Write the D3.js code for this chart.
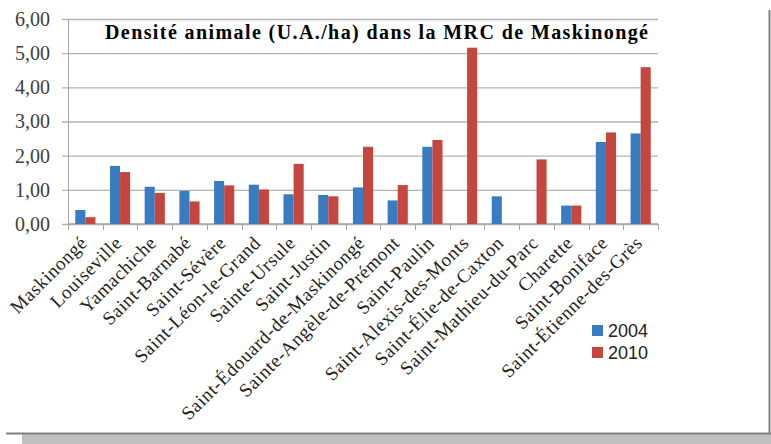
<!DOCTYPE html>
<html>
<head>
<meta charset="utf-8">
<script src="https://cdn.jsdelivr.net/npm/d3@7"></script>
<style>
  body { margin: 0; background: #fff; }
</style>
</head>
<body>
<div id="chart"></div>
<script>
// DATA

const categories = ["Maskinongé", "Louiseville", "Yamachiche", "Saint-Barnabé", "Saint-Sévère",
  "Saint-Léon-le-Grand", "Sainte-Ursule", "Saint-Justin", "Saint-Édouard-de-Maskinongé",
  "Sainte-Angèle-de-Prémont", "Saint-Paulin", "Saint-Alexis-des-Monts", "Saint-Élie-de-Caxton",
  "Saint-Mathieu-du-Parc", "Charette", "Saint-Boniface", "Saint-Étienne-des-Grès"];
const values2004 = [0.41, 1.70, 1.09, 0.97, 1.26, 1.15, 0.87, 0.85, 1.07, 0.69, 2.26, 0, 0.81, 0, 0.54, 2.40, 2.65];
const values2010 = [0.20, 1.52, 0.91, 0.66, 1.13, 1.01, 1.76, 0.81, 2.26, 1.14, 2.46, 5.16, 0, 1.89, 0.54, 2.68, 4.59];
const seriesNames = ["2004", "2010"];
const yTicks = [0, 1, 2, 3, 4, 5, 6];
const title = "Densité animale (U.A./ha) dans la MRC de Maskinongé";

// SETUP

const W = 771, H = 444;
const colors = ["#3a7cc1", "#c4463f"];
const serif = "Liberation Serif, DejaVu Serif, serif";

var svg = d3.select("#chart")
  .append("svg")
  .attr("width", W)
  .attr("height", H);

// frame and shadow
svg.append("rect")
  .attr("x", 22).attr("y", 434)
  .attr("width", W - 22).attr("height", 10)
  .attr("fill", "#c0c0c0");
svg.append("line")
  .attr("x1", 6).attr("y1", 433.5).attr("x2", W).attr("y2", 433.5)
  .attr("stroke", "#808080").attr("stroke-width", 2);
svg.append("line")
  .attr("x1", 769.5).attr("y1", 10).attr("x2", 769.5).attr("y2", 434)
  .attr("stroke", "#808080").attr("stroke-width", 2);

// SCALES

var x = d3.scaleBand()
  .domain(categories)
  .range([68, 658])
  .paddingInner(0)
  .paddingOuter(0);

var sub = d3.scaleBand()
  .domain(seriesNames)
  .range([0, x.bandwidth()])
  .paddingInner(0)
  .paddingOuter(0.72);

var y = d3.scaleLinear()
  .domain([0, 6])
  .range([224, 19]);

// GRID + Y AXIS

var gy = svg.append("g")
  .attr("transform", "translate(68,0)")
  .call(d3.axisLeft(y)
    .tickValues(yTicks)
    .tickSize(-590)
    .tickPadding(18)
    .tickFormat(d => d3.format(".2f")(d).replace(".", ",")));
gy.select(".domain").remove();
gy.selectAll(".tick line")
  .attr("x1", -6)
  .attr("stroke", "#b3b3b3")
  .attr("stroke-width", 1.3);
gy.selectAll(".tick text")
  .attr("font-family", serif)
  .attr("font-size", 20)
  .attr("fill", "#404040");

svg.append("line")
  .attr("x1", 68.5).attr("x2", 68.5)
  .attr("y1", 19).attr("y2", 224)
  .attr("stroke", "#a6a6a6");

// X AXIS

var gx = svg.append("g")
  .attr("transform", "translate(0,224)");
gx.append("line")
  .attr("x1", 68).attr("x2", 658)
  .attr("stroke", "#a6a6a6").attr("stroke-width", 1.3);
gx.selectAll(".xt")
  .data(categories.concat(["__end"]))
  .join("line")
  .attr("class", "xt")
  .attr("x1", (d, i) => Math.round(68 + i * x.step()) + 0.5)
  .attr("x2", (d, i) => Math.round(68 + i * x.step()) + 0.5)
  .attr("y1", 0).attr("y2", 6)
  .attr("stroke", "#a6a6a6");

gx.selectAll(".xl")
  .data(categories)
  .join("text")
  .attr("class", "xl")
  .attr("transform", d => "translate(" + (x(d) + x.bandwidth() / 2 + 3) + ",20) rotate(-45)")
  .attr("text-anchor", "end")
  .attr("font-family", serif)
  .attr("font-size", 19)
  .attr("letter-spacing", 0.6)
  .attr("fill", "#222")
  .text(d => d);

// BARS

var series = [values2004, values2010];
series.forEach(function(vals, s) {
  svg.selectAll(".bar" + s)
    .data(categories)
    .join("rect")
    .attr("class", "bar" + s)
    .attr("x", d => x(d) + sub(seriesNames[s]))
    .attr("width", sub.bandwidth())
    .attr("y", (d, i) => y(vals[i]))
    .attr("height", (d, i) => y(0) - y(vals[i]))
    .attr("fill", colors[s]);
});

// TITLE

svg.append("text")
  .attr("x", 105)
  .attr("y", 39)
  .attr("textLength", 543)
  .attr("font-family", serif)
  .attr("font-weight", "bold")
  .attr("font-size", 20)
  .attr("fill", "#000")
  .text(title);

// LEGEND

var leg = svg.append("g").attr("transform", "translate(592,325)");
seriesNames.forEach(function(name, i) {
  leg.append("rect")
    .attr("x", 0).attr("y", i * 22)
    .attr("width", 11).attr("height", 11)
    .attr("fill", colors[i]);
  leg.append("text")
    .attr("x", 16).attr("y", i * 22 + 12)
    .attr("font-family", "Liberation Sans, Arial, sans-serif")
    .attr("font-size", 18)
    .attr("fill", "#222")
    .text(name);
});
</script>
</body>
</html>
